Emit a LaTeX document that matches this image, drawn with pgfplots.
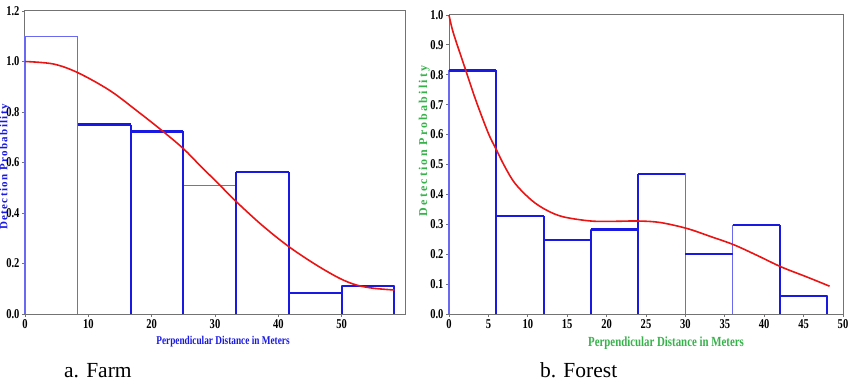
\documentclass[border=0pt]{standalone}
\usepackage{pgfplots}
\pgfplotsset{compat=1.18}
\usepackage{fontspec}
\setmainfont{Liberation Serif}
\newfontfamily\condfont[FakeStretch=0.78]{Liberation Serif}
\newfontfamily\ylabfont[LetterSpace=12]{Liberation Serif}
\newfontfamily\ylabfontb[LetterSpace=18]{Liberation Serif}
\definecolor{barblue}{RGB}{25,25,225}
\definecolor{lightblue}{RGB}{105,105,242}
\definecolor{labgreen}{RGB}{55,178,75}
\definecolor{axgray}{RGB}{115,115,115}
\definecolor{curvered}{RGB}{235,20,20}
\pgfplotsset{myax/.style={
  scale only axis,
  axis line style={axgray, line width=1pt},
  tick style={axgray, line width=0.8pt},
  tick align=outside, major tick length=3pt,
  xtick pos=bottom, ytick pos=left,
  tick label style={font=\condfont\bfseries\fontsize{13.5}{14}\selectfont, text=black},
  /pgf/number format/assume math mode=true,
  y tick label style={/pgf/number format/fixed, /pgf/number format/fixed zerofill, /pgf/number format/precision=1, xshift=1pt},
  x tick label style={yshift=1pt},
  clip=false,
},
thinb/.style={lightblue, line width=1.2pt},
thickb/.style={barblue, line width=2.4pt},
medb/.style={barblue, line width=1.9pt},
fitc/.style={curvered, line width=1.6pt, smooth, tension=0.55}}
\begin{document}
\begin{tikzpicture}
\path[use as bounding box] (0,0) rectangle (850pt,383pt);
% ---------- a. Farm ----------
\begin{axis}[myax, at={(25pt,69pt)}, anchor=south west,
  width=380pt, height=303pt,
  xmin=0, xmax=60, ymin=0, ymax=1.2,
  xtick={0,10,20,30,40,50}, ytick={0,0.2,0.4,0.6,0.8,1.0,1.2},
  xlabel={Perpendicular Distance in Meters},
  ylabel={Detection Probability},
  xlabel style={text=barblue, font=\condfont\bfseries\fontsize{11.9}{13}\selectfont, at={(axis description cs:0.5,0)}, anchor=center, yshift=-28pt, xshift=8pt},
  ylabel style={text=barblue, font=\ylabfont\bfseries\fontsize{11}{12}\selectfont, at={(axis description cs:-0.053,0.485)}, anchor=center},
]
\addplot[thinb] coordinates {(0,0)(0,1.099)(8.333,1.099)(8.333,0)};
\addplot[thinb] coordinates {(8.333,0)(8.333,0.750)(16.667,0.750)(16.667,0)};
\addplot[thinb] coordinates {(16.667,0)(16.667,0.723)(25,0.723)(25,0)};
\addplot[thinb] coordinates {(25,0)(25,0.510)(33.333,0.510)(33.333,0)};
\addplot[thinb] coordinates {(33.333,0)(33.333,0.563)(41.667,0.563)(41.667,0)};
\addplot[thinb] coordinates {(41.667,0)(41.667,0.082)(50,0.082)(50,0)};
\addplot[thinb] coordinates {(50,0)(50,0.111)(58.333,0.111)(58.333,0)};
% heavier edges
\addplot[thickb] coordinates {(8.333,0.750)(16.667,0.750)};
\addplot[thickb] coordinates {(16.667,0.723)(25,0.723)};
\addplot[thickb] coordinates {(33.333,0.563)(41.667,0.563)};
\addplot[thickb] coordinates {(41.667,0.082)(50,0.082)};
\addplot[thickb] coordinates {(50,0.111)(58.333,0.111)};
\addplot[medb] coordinates {(16.667,0)(16.667,0.750)};
\addplot[medb] coordinates {(25,0)(25,0.723)};
\addplot[medb] coordinates {(33.333,0)(33.333,0.563)};
\addplot[medb] coordinates {(41.667,0)(41.667,0.563)};
\addplot[medb] coordinates {(50,0)(50,0.111)};
\addplot[medb] coordinates {(58.333,0)(58.333,0.111)};
% fitted detection function
\addplot[fitc] coordinates {
 (0,1.000) (4.5,0.990) (8.4,0.955) (13.4,0.885) (17.6,0.806) (21.6,0.727)
 (25,0.655) (27.6,0.589) (30.5,0.517) (33.4,0.444) (37.5,0.350) (41.7,0.266)
 (46,0.194) (49.7,0.141) (52.3,0.115) (55,0.102) (58.333,0.095)};
\end{axis}
% ---------- b. Forest ----------
\begin{axis}[myax, at={(449pt,69pt)}, anchor=south west,
  width=394pt, height=299pt,
  xmin=0, xmax=50, ymin=0, ymax=1.0,
  xtick={0,5,...,50}, ytick={0,0.1,...,1.0},
  xlabel={Perpendicular Distance in Meters},
  ylabel={Detection Probability},
  xlabel style={text=labgreen, at={(axis description cs:0.5,0)}, anchor=center, yshift=-29pt, xshift=20pt, font=\condfont\bfseries\fontsize{13.9}{15}\selectfont},
  ylabel style={text=labgreen, at={(axis description cs:-0.063,0.579)}, anchor=center, font=\ylabfontb\bfseries\fontsize{12}{13}\selectfont},
]
\addplot[thinb] coordinates {(0,0)(0,0.815)(6,0.815)(6,0)};
\addplot[thinb] coordinates {(6,0)(6,0.329)(12,0.329)(12,0)};
\addplot[thinb] coordinates {(12,0)(12,0.249)(18,0.249)(18,0)};
\addplot[thinb] coordinates {(18,0)(18,0.282)(24,0.282)(24,0)};
\addplot[thinb] coordinates {(24,0)(24,0.469)(30,0.469)(30,0)};
\addplot[thinb] coordinates {(30,0)(30,0.202)(36,0.202)(36,0)};
\addplot[thinb] coordinates {(36,0)(36,0.297)(42,0.297)(42,0)};
\addplot[thinb] coordinates {(42,0)(42,0.061)(48,0.061)(48,0)};
% heavier edges
\addplot[thickb] coordinates {(0,0.815)(6,0.815)};
\addplot[thickb] coordinates {(18,0.282)(24,0.282)};
\addplot[thickb] coordinates {(24,0.469)(30,0.469)};
\addplot[thickb] coordinates {(36,0.297)(42,0.297)};
\addplot[thickb] coordinates {(42,0.061)(48,0.061)};
\addplot[medb] coordinates {(6,0.329)(12,0.329)};
\addplot[medb] coordinates {(12,0.249)(18,0.249)};
\addplot[medb] coordinates {(30,0.202)(36,0.202)};
\addplot[medb] coordinates {(6,0)(6,0.815)};
\addplot[medb] coordinates {(12,0)(12,0.329)};
\addplot[medb] coordinates {(18,0)(18,0.282)};
\addplot[medb] coordinates {(24,0)(24,0.469)};
\addplot[medb] coordinates {(42,0)(42,0.297)};
\addplot[medb] coordinates {(48,0)(48,0.061)};
% fitted detection function
\addplot[fitc] coordinates {
 (0,1.000) (0.55,0.940) (2,0.825) (3.4,0.715) (5,0.604) (6,0.550) (7.1,0.492)
 (8.4,0.436) (10.5,0.380) (12.4,0.347) (14.5,0.325) (18,0.311) (21,0.310)
 (24,0.311) (26.8,0.306) (30.2,0.286) (33.1,0.260) (36.1,0.232) (39.1,0.196)
 (42.2,0.157) (45.4,0.124) (48.3,0.093)};
\end{axis}
% ---------- captions ----------
\node[anchor=base west, inner sep=0pt, font=\fontsize{21.5}{24}\selectfont] at (64pt,6pt) {a. Farm};
\node[anchor=base west, inner sep=0pt, font=\fontsize{21.5}{24}\selectfont] at (540pt,6pt) {b. Forest};
\end{tikzpicture}
\end{document}
